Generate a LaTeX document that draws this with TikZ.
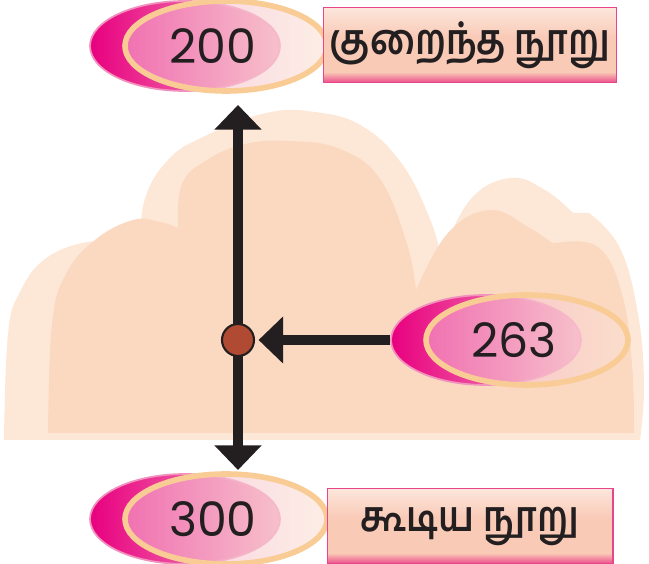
\documentclass[tikz,border=0pt]{standalone}
\usepackage{fontspec}
\newfontfamily\tamilfont[Script=Tamil, FakeStretch=0.86]{Hind Madurai}
\newfontfamily\numfont{Poppins}
\usetikzlibrary{arrows.meta,shapes.geometric,positioning}

\definecolor{cloudpale}{HTML}{FDE8D8}
\definecolor{cloudpeach}{HTML}{FBD9C0}
\definecolor{ovalmagenta}{HTML}{E8007F}
\definecolor{ovalpink}{HTML}{F4A2C0}
\definecolor{ovalrim}{HTML}{F192BC}
\definecolor{ovalleft}{HTML}{F5A9CC}
\definecolor{ovalright}{HTML}{FBE2D4}
\definecolor{ovalgold}{HTML}{F9CB95}
\definecolor{boxtop}{HTML}{FCE6DC}
\definecolor{boxmid}{HTML}{F9CAB6}
\definecolor{boxbottom}{HTML}{EC4F8C}
\definecolor{boxrim}{HTML}{E8458A}
\definecolor{inkblack}{HTML}{231F20}
\definecolor{dotred}{HTML}{B04A33}

\pgfdeclareverticalshading{boxglow}{100bp}{color(0bp)=(boxbottom); color(25bp)=(boxbottom);
  color(32bp)=(boxmid); color(55bp)=(boxmid); color(75bp)=(boxtop); color(100bp)=(boxtop)}

\tikzset{
  backoval/.style={ellipse, inner sep=0pt, minimum width=3.8cm, minimum height=1.8cm,
    left color=ovalmagenta, right color=ovalpink, draw=ovalrim, line width=1pt},
  frontoval/.style={ellipse, inner sep=0pt, minimum width=4.04cm, minimum height=1.8cm,
    left color=ovalleft, right color=ovalright, fill opacity=0.6, draw=ovalgold,
    draw opacity=1, line width=3.2pt},
  numtext/.style={font=\numfont\fontsize{27}{30}\selectfont, text=inkblack},
  namebox/.style={rectangle, minimum width=5.72cm, minimum height=1.5cm, shading=boxglow,
    draw=boxrim, line width=0.6pt, text=inkblack, font=\tamilfont\bfseries\fontsize{24}{28}\selectfont},
  thickarrow/.style={line width=5.6pt, draw=inkblack, -{Triangle[length=14pt,width=26pt]}},
  meetdot/.style={circle, minimum size=0.64cm, inner sep=0pt, fill=dotred, draw=inkblack, line width=1.2pt}
}

% back oval, front oval and number
\newcommand{\numblob}[3]{%
  \node[backoval] (#1) at (#2) {};
  \node[frontoval] (#1f) at ([xshift=0.82cm]#1.center) {};
  \node[numtext] (#1t) at ([xshift=0.56cm]#1.center) {#3};
}

\begin{document}
\begin{tikzpicture}[x=0.02cm, y=0.02cm]
\useasboundingbox (0,0) rectangle (649,564);

% clouds
\fill[cloudpale] plot[smooth, tension=0.7] coordinates {(4,124) (8,230) (20,272) (45,305) (87,322) (120,318) (141,307)}
  -- plot[smooth, tension=0.7] coordinates {(141,307) (144,362) (168,404) (205,428) (266,451) (315,452) (362,438) (402,400) (430,345) (441,307)}
  -- plot[smooth, tension=0.7] coordinates {(441,307) (470,364) (510,386) (545,374) (573,351)}
  -- plot[smooth, tension=0.7] coordinates {(589,351) (620,316) (638,250) (644,180) (640,124)} -- cycle;
\fill[cloudpeach] plot[smooth, tension=0.7] coordinates {(48,131) (52,240) (66,290) (95,324) (133,344) (160,342) (178,336)}
  -- plot[smooth, tension=0.7] coordinates {(178,336) (182,380) (207,404) (245,420) (290,423) (340,415) (380,385) (407,320) (416,274)}
  -- plot[smooth, tension=0.7] coordinates {(416,274) (448,331) (490,354) (528,337) (552,321)}
  -- plot[smooth, tension=0.7] coordinates {(556,321) (598,317) (622,270) (632,200) (634,131)} -- cycle;

% ovals and name boxes
\numblob{n200}{185,518}{200}
\numblob{n263}{486,224}{263}
\numblob{n300}{185,45}{300}
\node[namebox] (less) at (470,519) {குறைந்த நூறு};
\node[namebox] (more) at (470,38) {கூடிய நூறு};

% arrows
\coordinate (meet) at (238,224);
\coordinate (uptip) at (238,459);
\coordinate (downtip) at (238,94);
\draw[thickarrow] (meet) -- (uptip);
\draw[thickarrow] (meet) -- (downtip);
\node[meetdot] (dot) at (meet) {};
\draw[thickarrow, shorten >=2pt] (n263.west) -- (dot.east);
\end{tikzpicture}
\end{document}
